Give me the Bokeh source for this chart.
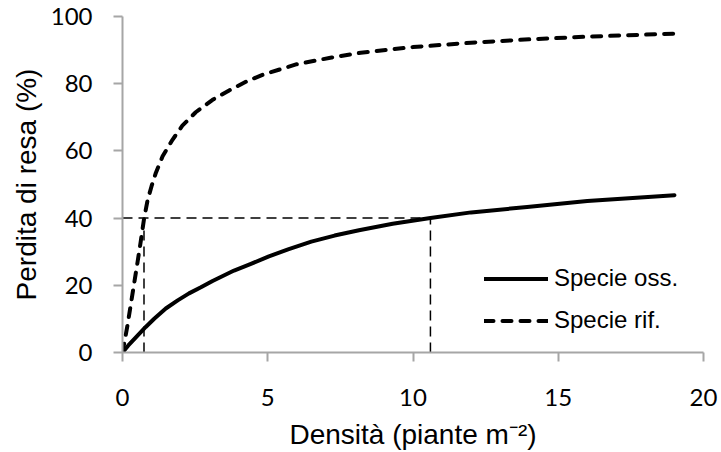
from bokeh.plotting import figure
from bokeh.models import Range1d, Legend, LegendItem, FixedTicker, ColumnDataSource
from bokeh.embed import file_html
from bokeh.resources import INLINE

# ---- data ----
dens_oss = [0, 0.2, 0.46, 0.8, 1.1, 1.49, 1.9, 2.29, 2.7, 3.1, 3.84, 4.4, 5.04, 5.7, 6.5,
            7.3, 8.14, 9.3, 10.6, 12, 13.93, 16, 19]
loss_oss = [0, 2.1, 4.5, 7.6, 10.1, 13.1, 15.5, 17.6, 19.4, 21.3, 24.4, 26.3, 28.6, 30.7, 33.0,
            34.8, 36.4, 38.3, 40.0, 41.7, 43.3, 45.1, 46.8]

dens_rif = [0, 0.17, 0.29, 0.40, 0.52, 0.63, 0.74, 0.86, 1.0, 1.15, 1.38, 1.72, 2.06, 2.52,
            3.1, 3.67, 4.3, 4.87, 6.0, 7.2, 8.2, 10, 12, 14, 16, 19]
loss_rif = [0, 8.0, 14.5, 20.5, 27.0, 33.2, 39.7, 45.2, 49.5, 53.5, 58.4, 63.3, 67.5, 71.5,
            75.2, 78.0, 80.8, 82.8, 85.8, 87.8, 89.2, 90.9, 92.2, 93.2, 94.0, 94.9]

threshold_loss = 40
threshold_dens = [0.74, 10.6]

x_ticks = [0, 5, 10, 15, 20]
y_ticks = [0, 20, 40, 60, 80, 100]

series_names = ["Specie oss.", "Specie rif."]
x_title = "Densità (piante m⁻²)"
y_title = "Perdita di resa (%)"

p = figure(width=720, height=452, output_backend="svg", toolbar_location=None,
           x_range=Range1d(0, 20), y_range=Range1d(0, 100),
           min_border_left=122, min_border_right=17, min_border_top=16, min_border_bottom=98)
p.outline_line_color = None
p.xgrid.visible = False
p.ygrid.visible = False

# reference (threshold) lines
ref_src = ColumnDataSource(dict(
    x0=[0, threshold_dens[0], threshold_dens[1]],
    y0=[threshold_loss, 0, 0],
    x1=[threshold_dens[1], threshold_dens[0], threshold_dens[1]],
    y1=[threshold_loss, threshold_loss, threshold_loss],
))
p.segment(x0="x0", y0="y0", x1="x1", y1="y1", source=ref_src,
          line_color="black", line_width=1.5, line_dash="10 6")

r_oss = p.line(dens_oss, loss_oss, line_color="black", line_width=4,
               line_cap="round", line_join="round")
r_rif = p.line(dens_rif, loss_rif, line_color="black", line_width=4,
               line_dash="9 9", line_cap="round", line_join="round")

for ax, ticks in ((p.xaxis, x_ticks), (p.yaxis, y_ticks)):
    ax.ticker = FixedTicker(ticks=ticks)
    ax.axis_line_color = "#A6A6A6"
    ax.axis_line_width = 2
    ax.major_tick_line_color = "#A6A6A6"
    ax.major_tick_line_width = 2
    ax.major_tick_in = 0
    ax.major_tick_out = 9
    ax.minor_tick_line_color = None
    ax.major_label_text_font = "Lato"
    ax.major_label_text_font_size = "24px"
    ax.major_label_text_color = "black"
    ax.axis_label_text_font = "Liberation Sans"
    ax.axis_label_text_font_size = "28px"
    ax.axis_label_text_font_style = "normal"
    ax.axis_label_text_color = "black"

p.xaxis.axis_label = x_title
p.yaxis.axis_label = y_title
p.xaxis.major_label_standoff = 27
p.yaxis.major_label_standoff = 21
p.xaxis.axis_label_standoff = 10
p.yaxis.axis_label_standoff = 6

legend = Legend(items=[LegendItem(label=series_names[0], renderers=[r_oss]),
                       LegendItem(label=series_names[1], renderers=[r_rif])],
                location=(362, 18), orientation="vertical",
                border_line_color=None, background_fill_alpha=0,
                glyph_width=64, glyph_height=27, label_height=27,
                label_standoff=6, spacing=14, padding=0, margin=0,
                label_text_font="Liberation Sans", label_text_font_size="24px",
                label_text_color="black")
p.add_layout(legend)

open("out.html", "w").write(file_html(p, INLINE))
